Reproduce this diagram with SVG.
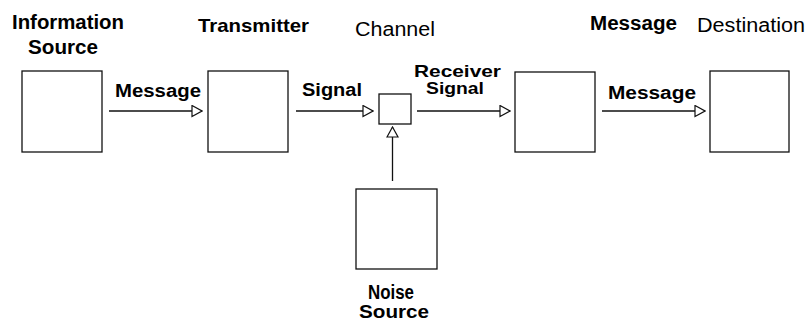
<svg xmlns="http://www.w3.org/2000/svg" width="812" height="322" viewBox="0 0 812 322">
  <style>
    .box { fill: #fff; stroke: #111; stroke-width: 1.3; }
    .conn { stroke: #111; stroke-width: 1.3; fill: none; }
    .lb { font-family: "Liberation Sans", Arial, sans-serif; font-weight: bold; fill: #000; }
    .ln { font-family: "Liberation Sans", Arial, sans-serif; font-weight: normal; fill: #000; }
  </style>
  <defs>
    <marker id="arr" markerUnits="userSpaceOnUse" markerWidth="12" markerHeight="13" refX="10" refY="6" orient="auto" viewBox="-1 0 12 12">
      <path d="M0,0.5 L10,6 L0,11.5 Z" fill="#fff" stroke="#111" stroke-width="1.2"/>
    </marker>
  </defs>
  <rect width="812" height="322" fill="#fff"/>

  <g id="connectors">
    <line class="conn" x1="109" y1="111" x2="202" y2="111" marker-end="url(#arr)"/>
    <line class="conn" x1="296" y1="111" x2="373" y2="111" marker-end="url(#arr)"/>
    <line class="conn" x1="417" y1="111" x2="510" y2="111" marker-end="url(#arr)"/>
    <line class="conn" x1="602" y1="111" x2="705" y2="111" marker-end="url(#arr)"/>
    <line class="conn" x1="392.5" y1="181" x2="392.5" y2="127" marker-end="url(#arr)"/>
    <text class="lb" x="115" y="97" font-size="17.5" textLength="86" lengthAdjust="spacingAndGlyphs">Message</text>
    <text class="lb" x="302" y="96" font-size="17.5" textLength="60" lengthAdjust="spacingAndGlyphs">Signal</text>
    <text class="lb" x="414" y="77" font-size="16.5" textLength="87" lengthAdjust="spacingAndGlyphs">Receiver</text>
    <text class="lb" x="426" y="94" font-size="16.5" textLength="58" lengthAdjust="spacingAndGlyphs">Signal</text>
    <text class="lb" x="608" y="99" font-size="17.5" textLength="88" lengthAdjust="spacingAndGlyphs">Message</text>
  </g>

  <g id="information-source">
    <rect class="box" x="22" y="71" width="80" height="81"/>
    <text class="lb" x="12" y="29" font-size="20" textLength="112" lengthAdjust="spacingAndGlyphs">Information</text>
    <text class="lb" x="28" y="54" font-size="20" textLength="70" lengthAdjust="spacingAndGlyphs">Source</text>
  </g>

  <g id="transmitter">
    <rect class="box" x="208" y="71" width="80" height="81"/>
    <text class="lb" x="198" y="32" font-size="19" textLength="111" lengthAdjust="spacingAndGlyphs">Transmitter</text>
  </g>

  <g id="channel">
    <rect class="box" x="379" y="94" width="32" height="30"/>
    <text class="ln" x="355" y="36" font-size="20" textLength="80" lengthAdjust="spacingAndGlyphs">Channel</text>
  </g>

  <g id="noise-source">
    <rect class="box" x="356" y="189" width="81" height="80"/>
    <text class="lb" x="368" y="299" font-size="20" textLength="46" lengthAdjust="spacingAndGlyphs">Noise</text>
    <text class="lb" x="359" y="318" font-size="19" textLength="70" lengthAdjust="spacingAndGlyphs">Source</text>
  </g>

  <g id="receiver">
    <rect class="box" x="515" y="72" width="80" height="80"/>
    <text class="lb" x="590" y="30" font-size="20" textLength="87" lengthAdjust="spacingAndGlyphs">Message</text>
  </g>

  <g id="destination">
    <rect class="box" x="710" y="71" width="79" height="81"/>
    <text class="ln" x="697" y="32" font-size="20" textLength="108" lengthAdjust="spacingAndGlyphs">Destination</text>
  </g>
</svg>
